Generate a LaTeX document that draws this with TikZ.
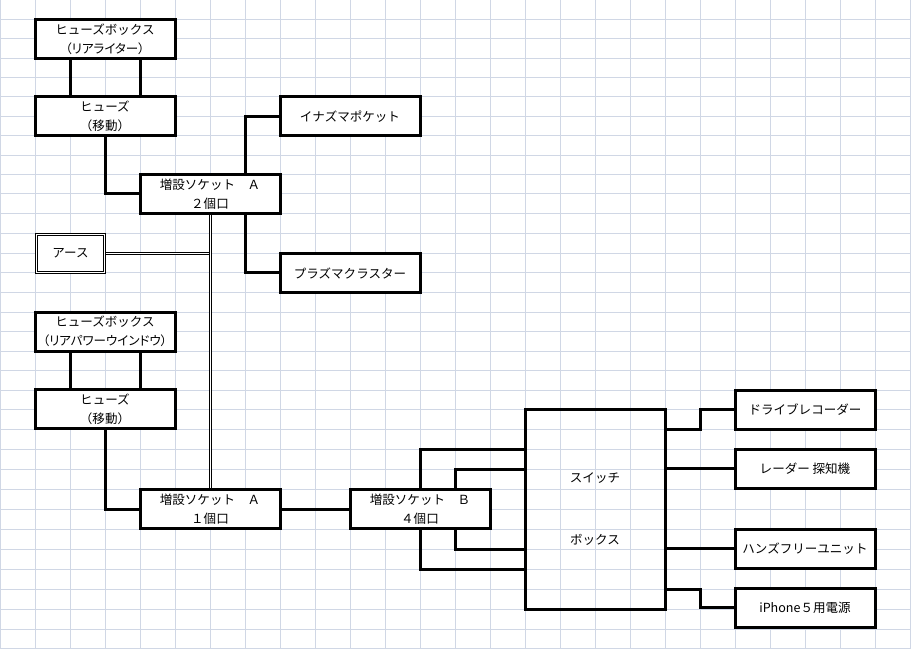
\documentclass[tikz,border=0pt]{standalone}
\usepackage{fontspec}
\setmainfont{Noto Sans CJK JP}
\newfontfamily\propfont{Noto Sans CJK JP}[RawFeature=+palt]
\definecolor{gridblue}{RGB}{208,215,229}
\usetikzlibrary{positioning}

\begin{document}
\begin{tikzpicture}[
		x=0.75pt, y=-0.75pt,
		node distance=29pt and 29pt,
		partbox/.style={draw, line width=2.25pt, fill=white, inner sep=0pt, outer sep=0pt, minimum width=105pt, minimum height=29.25pt, align=center, font=\fontsize{9.4pt}{14.25pt}\selectfont},
		earthbox/.style={partbox, double, line width=0.75pt, double distance=0.75pt, minimum width=51pt, minimum height=28.7pt},
		wire/.style={line width=2.25pt},
		earthwire/.style={double, line width=0.75pt, double distance=0.75pt},
		gridline/.style={draw=gridblue, line width=0.75pt}
		]
		\useasboundingbox (0,0) rectangle (911,649);
		\foreach \x in {0,35,...,910}
			\draw[gridline] (\x,0) -- (\x,649);
		\foreach \y in {19.4,38.8,58.2,77.6,97,116.4,135.8,155.2,174.6,194,213.4,234,253.5,273,292.5,312,331.5,351,370.5,390,409.5,429,449,469,489,509,529,549,569,589,609,629,648}
			\draw[gridline] (0,\y) -- (911,\y);
		\node[partbox] (fbox1) at (105,38.8) {ヒューズボックス\\{\propfont （リアライター）}};
		\node[partbox, below=of fbox1] (fuse1) {ヒューズ\\（移動）};
		\node[partbox] (sockA2) at (210,194) {増設ソケット　Ａ\\２個口};
		\node[partbox] (inazuma) at (350,116.4) {イナズマポケット};
		\node[partbox] (plasma) at (350,273) {プラズマクラスター};
		\node[earthbox] (earth) at (70.5,253.4) {アース};
		\node[partbox] (fbox2) at (105,331.5) {ヒューズボックス\\{\propfont （リアパワーウインドウ）}};
		\node[partbox, below=of fbox2] (fuse2) {ヒューズ\\（移動）};
		\node[partbox] (sockA1) at (210,509) {増設ソケット　Ａ\\１個口};
		\node[partbox] (sockB) at (420,509) {増設ソケット　Ｂ\\４個口};
		\node[partbox, fill=none, minimum height=150pt] (switch) at (595,509) {スイッチ\\[32pt]ボックス};
		\node[partbox] (recorder) at (805,409.5) {ドライブレコーダー};
		\node[partbox, below=15pt of recorder] (radar) {レーダー 探知機};
		\node[partbox, below=31pt of radar] (handsfree) {ハンズフリーユニット};
		\node[partbox, below=15pt of handsfree] (iphone) {iPhone５用電源};
		\foreach \s in {-35,35} {
			\draw[wire] ([shift={(\s,0)}]fbox1.south) -- ([shift={(\s,0)}]fuse1.north);
			\draw[wire] ([shift={(\s,0)}]fbox2.south) -- ([shift={(\s,0)}]fuse2.north);
		}
		\draw[wire] (fuse1.south) |- (sockA2.west);
		\draw[wire] ([shift={(35,0)}]sockA2.north) |- (inazuma.west);
		\draw[wire] ([shift={(35,0)}]sockA2.south) |- (plasma.west);
		\draw[wire] (fuse2.south) |- (sockA1.west);
		\draw[wire] (sockA1.east) -- (sockB.west);
		\draw[earthwire, shorten <=1.125pt] (earth.east) -- (earth.east -| sockA2.south);
		\draw[earthwire, shorten <=1.125pt, shorten >=1.125pt] (sockA2.south) -- (sockA1.north);
		\draw[wire] (sockB.north) |- ([shift={(0,-60)}]switch.west);
		\draw[wire] ([shift={(35,0)}]sockB.north) |- ([shift={(0,-40)}]switch.west);
		\draw[wire] ([shift={(35,0)}]sockB.south) |- ([shift={(0,40)}]switch.west);
		\draw[wire] (sockB.south) |- ([shift={(0,60)}]switch.west);
		\draw[wire] ([shift={(0,-80)}]switch.east) -- ++(35,0) |- (recorder.west);
		\draw[wire] (radar.west -| switch.east) -- (radar.west);
		\draw[wire] (handsfree.west -| switch.east) -- (handsfree.west);
		\draw[wire] ([shift={(0,80)}]switch.east) -- ++(35,0) |- (iphone.west);
	\end{tikzpicture}
\end{document}
